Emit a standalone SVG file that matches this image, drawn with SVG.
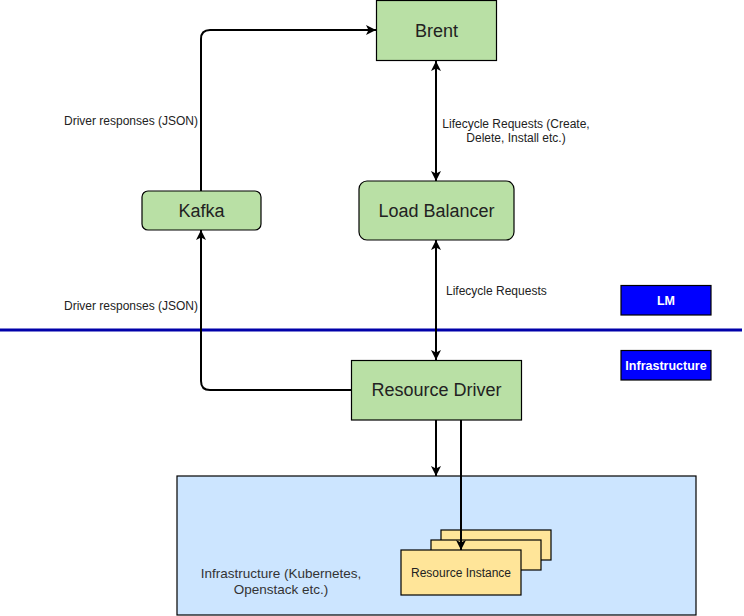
<svg xmlns="http://www.w3.org/2000/svg" width="744" height="616" viewBox="0 0 744 616">
<style>
  text { font-family: "Liberation Sans", Arial, sans-serif; fill: #222; }
  .green { fill: #B9E0A5; stroke: #000; stroke-width: 1.2; }
  .yellow { fill: #FFE599; stroke: #000; stroke-width: 1.2; }
  .tag { fill: #0000FF; stroke: #000; stroke-width: 1.2; }
  .big { font-size: 18px; text-anchor: middle; }
  .small { font-size: 12px; }
  .tagtxt { font-size: 12.5px; font-weight: bold; fill: #fff; text-anchor: middle; }
  .edge { fill: none; stroke: #000; stroke-width: 2; }
</style>
<defs>
  <marker id="arr" viewBox="0 0 10 10" refX="10" refY="5" markerWidth="10" markerHeight="10" markerUnits="userSpaceOnUse" orient="auto-start-reverse">
    <path d="M0,0 L10,5 L0,10 L2.5,5 z" fill="#000"/>
  </marker>
</defs>

<g id="infra-box">
  <rect x="177" y="476" width="519" height="139" fill="#CCE5FF" stroke="#000" stroke-width="1.2"/>
  <text x="281" y="578" font-size="13.5" text-anchor="middle" style="fill:#333">Infrastructure (Kubernetes,</text>
  <text x="281" y="593.5" font-size="13.5" text-anchor="middle" style="fill:#333">Openstack etc.)</text>
</g>

<g id="divider">
  <line x1="0" y1="330" x2="742" y2="330" stroke="#0000AA" stroke-width="3"/>
</g>

<g id="brent">
  <rect class="green" x="376.5" y="0.5" width="120" height="60"/>
  <text class="big" x="436.5" y="36.5">Brent</text>
</g>

<g id="load-balancer">
  <rect class="green" x="359" y="181" width="155" height="59" rx="8"/>
  <text class="big" x="436.5" y="217">Load Balancer</text>
</g>

<g id="kafka">
  <rect class="green" x="142" y="191" width="119" height="39" rx="6"/>
  <text class="big" x="201.5" y="217">Kafka</text>
</g>

<g id="resource-driver">
  <rect class="green" x="351.5" y="360.5" width="170" height="59.5"/>
  <text class="big" x="436.5" y="396">Resource Driver</text>
</g>

<g id="resource-instance">
  <rect class="yellow" x="441" y="530" width="110" height="30"/>
  <rect class="yellow" x="431" y="540" width="110" height="30"/>
  <rect class="yellow" x="401" y="550" width="120" height="45"/>
  <text x="461" y="577" font-size="12" text-anchor="middle">Resource Instance</text>
</g>

<g id="lm-tag">
  <rect class="tag" x="621" y="285.5" width="90" height="29.5"/>
  <text class="tagtxt" x="666" y="305">LM</text>
</g>

<g id="infra-tag">
  <rect class="tag" x="621" y="350.5" width="90" height="29.5"/>
  <text class="tagtxt" x="666" y="370">Infrastructure</text>
</g>

<g id="connectors">
  <path class="edge" d="M201,191 L201,39 Q201,30 210,30 L376,30" marker-end="url(#arr)"/>
  <path class="edge" d="M436,61 L436,181" marker-start="url(#arr)" marker-end="url(#arr)"/>
  <path class="edge" d="M436,240 L436,360" marker-start="url(#arr)" marker-end="url(#arr)"/>
  <path class="edge" d="M351,390 L210,390 Q201,390 201,381 L201,230" marker-end="url(#arr)"/>
  <path class="edge" d="M436,420 L436,476" marker-end="url(#arr)"/>
  <path class="edge" d="M461,420 L461,550" marker-end="url(#arr)"/>
  <text class="small" x="198" y="125" text-anchor="end">Driver responses (JSON)</text>
  <text class="small" x="516" y="128" text-anchor="middle">Lifecycle Requests (Create,</text>
  <text class="small" x="516" y="142" text-anchor="middle">Delete, Install etc.)</text>
  <text class="small" x="446" y="295">Lifecycle Requests</text>
  <text class="small" x="198" y="310" text-anchor="end">Driver responses (JSON)</text>
</g>
</svg>
